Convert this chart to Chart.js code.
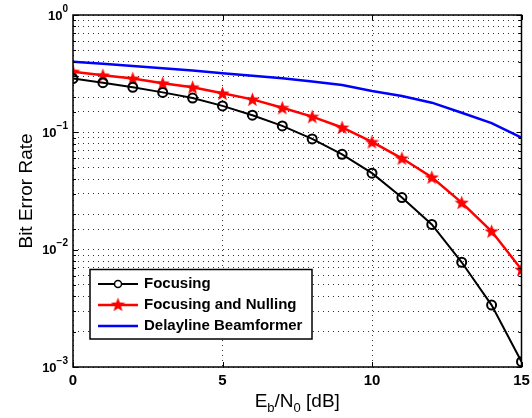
<!DOCTYPE html>
<html>
<head>
<meta charset="utf-8">
<script src="https://cdn.jsdelivr.net/npm/chart.js@4/dist/chart.umd.min.js"></script>
<style>
html,body{margin:0;padding:0;background:#fff}
</style>
</head>
<body>
<canvas id="myChart" width="532" height="418"></canvas>
<script>
const snr = [0,1,2,3,4,5,6,7,8,9,10,11,12,13,14,15]
const focusing = [0.287,0.265,0.242,0.219,0.196,0.168,0.140,0.1135,0.0879,0.065,0.0449,0.0278,0.0164,0.00781,0.00337,0.00111]
const nulling = [0.329,0.306,0.287,0.262,0.242,0.215,0.191,0.162,0.136,0.110,0.0828,0.0601,0.0414,0.0252,0.01436,0.00677]
const delayline = [0.400,0.384,0.368,0.352,0.336,0.319,0.303,0.289,0.271,0.253,0.225,0.204,0.179,0.147,0.120,0.090]
const xTicks = [0,5,10,15]
const yExponents = [0,-1,-2,-3]
const seriesNames = ['Focusing','Focusing and Nulling','Delayline Beamformer']

const FONT = '"Liberation Sans", Arial, Helvetica, sans-serif'

// filled five point star, used as the point style
function makeStar(size,color){
    const c = document.createElement('canvas')
    c.width = size
    c.height = size
    const g = c.getContext('2d')
    const cx = size/2, cy = size/2+0.6, R = size/2, r = R*0.42
    g.beginPath()
    for(let i=0;i<10;i++){
        const rad = i%2===0 ? R : r
        const a = -Math.PI/2 + i*Math.PI/5
        g.lineTo(cx+rad*Math.cos(a), cy+rad*Math.sin(a))
    }
    g.closePath()
    g.fillStyle = color
    g.fill()
    return c
}
const star = makeStar(15,'#ff0000')

const frame = {
    id:'frame',
    afterDraw(chart){
        const {ctx, chartArea:a, scales:{x,y}} = chart
        ctx.save()
        // box
        ctx.strokeStyle = '#000'
        ctx.lineWidth = 1.5
        ctx.strokeRect(a.left, a.top, a.right-a.left, a.bottom-a.top)
        // inward ticks
        ctx.lineWidth = 1
        ctx.beginPath()
        xTicks.forEach(v=>{
            const px = Math.round(x.getPixelForValue(v))+0.5
            ctx.moveTo(px,a.bottom); ctx.lineTo(px,a.bottom-5)
            ctx.moveTo(px,a.top); ctx.lineTo(px,a.top+5)
        })
        y.ticks.forEach(t=>{
            const py = Math.round(y.getPixelForValue(t.value))+0.5
            const len = t.major ? 5 : 3
            ctx.moveTo(a.left,py); ctx.lineTo(a.left+len,py)
            ctx.moveTo(a.right,py); ctx.lineTo(a.right-len,py)
        })
        ctx.stroke()

        // x tick labels
        ctx.fillStyle = '#000'
        ctx.font = 'bold 15px '+FONT
        ctx.textAlign = 'center'
        ctx.textBaseline = 'middle'
        xTicks.forEach(v=>{
            ctx.fillText(String(v), x.getPixelForValue(v), 381)
        })
        // y tick labels 10^n
        yExponents.forEach(e=>{
            const py = y.getPixelForValue(Math.pow(10,e)) + 1
            const sup = e===0 ? '0' : '\u2212'+(-e)
            ctx.font = 'bold 10px '+FONT
            const sw = ctx.measureText(sup).width
            ctx.textAlign = 'left'
            ctx.fillText(sup, 68-sw, py-7)
            ctx.font = 'bold 13px '+FONT
            ctx.textAlign = 'right'
            ctx.fillText('10', 68-sw, py)
        })

        // axis titles
        ctx.font = '19px '+FONT
        ctx.textBaseline = 'alphabetic'
        ctx.save()
        ctx.translate(32,(a.top+a.bottom)/2)
        ctx.rotate(-Math.PI/2)
        ctx.textAlign = 'center'
        ctx.fillText('Bit Error Rate',0,0)
        ctx.restore()

        const parts = [['E',0],['b',1],['/N',0],['0',1],[' [dB]',0]]
        const widths = parts.map(([s,sub])=>{
            ctx.font = (sub?'13px ':'19px ')+FONT
            return ctx.measureText(s).width
        })
        const total = widths.reduce((p,q)=>p+q,0)
        let tx = (a.left+a.right)/2 - total/2
        ctx.textAlign = 'left'
        parts.forEach(([s,sub],i)=>{
            ctx.font = (sub?'13px ':'19px ')+FONT
            ctx.fillText(s, tx, sub ? 412 : 407)
            tx += widths[i]
        })

        // legend
        const L = 90, T = 269.5, W = 222, H = 69.5
        ctx.fillStyle = '#fff'
        ctx.fillRect(L,T,W,H)
        ctx.lineWidth = 1.5
        ctx.strokeStyle = '#000'
        ctx.strokeRect(L,T,W,H)
        const rows = [284,305,326]
        chart.data.datasets.forEach((ds,i)=>{
            const ry = rows[i]
            ctx.strokeStyle = ds.borderColor
            ctx.lineWidth = ds.borderWidth
            ctx.beginPath()
            ctx.moveTo(98,ry); ctx.lineTo(138,ry)
            ctx.stroke()
            if(ds.pointStyle==='circle'){
                ctx.lineWidth = 1.5
                ctx.beginPath()
                ctx.arc(118,ry,3.5,0,Math.PI*2)
                ctx.fillStyle = '#fff'
                ctx.fill()
                ctx.stroke()
            } else if(ds.pointStyle===star){
                ctx.drawImage(star,110.5,ry-8)
            }
            ctx.fillStyle = '#000'
            ctx.font = 'bold 15px '+FONT
            ctx.textBaseline = 'middle'
            ctx.fillText(ds.label,144,ry)
        })
        ctx.restore()
    }
}

const ctx = document.getElementById('myChart')

new Chart(ctx,{
    type:'line',
    data:{
        labels: snr,
        datasets:[{
            label: seriesNames[0],
            data: focusing,
            borderColor:'#000000',
            borderWidth:2,
            pointStyle:'circle',
            pointRadius:4.5,
            pointBorderWidth:2,
            pointBackgroundColor:'rgba(255,255,255,0)',
            pointBorderColor:'#000000',
            tension:0
        },{
            label: seriesNames[1],
            data: nulling,
            borderColor:'#ff0000',
            borderWidth:2.5,
            pointStyle:star,
            pointRadius:8,
            tension:0
        },{
            label: seriesNames[2],
            data: delayline,
            borderColor:'#0000ff',
            borderWidth:2.5,
            pointRadius:0,
            tension:0
        }]
    },
    options:{
        responsive:false,
        animation:false,
        events:[],
        layout:{padding:{top:15,right:10,left:0,bottom:0}},
        plugins:{
            legend:{display:false},
            tooltip:{enabled:false}
        },
        scales:{
            x:{
                type:'linear',
                min:0,
                max:15,
                ticks:{display:false, stepSize:5},
                grid:{color:'#333',lineWidth:1,drawTicks:false},
                border:{display:false, dash:[1,4]},
                afterFit(scale){ scale.height = 51 }
            },
            y:{
                type:'logarithmic',
                min:0.001,
                max:1,
                ticks:{display:false},
                grid:{color:'#333',lineWidth:1,drawTicks:false},
                border:{display:false, dash:[1,4]},
                afterFit(scale){ scale.width = 73 }
            }
        }
    },
    plugins:[frame]
})
</script>
</body>
</html>
